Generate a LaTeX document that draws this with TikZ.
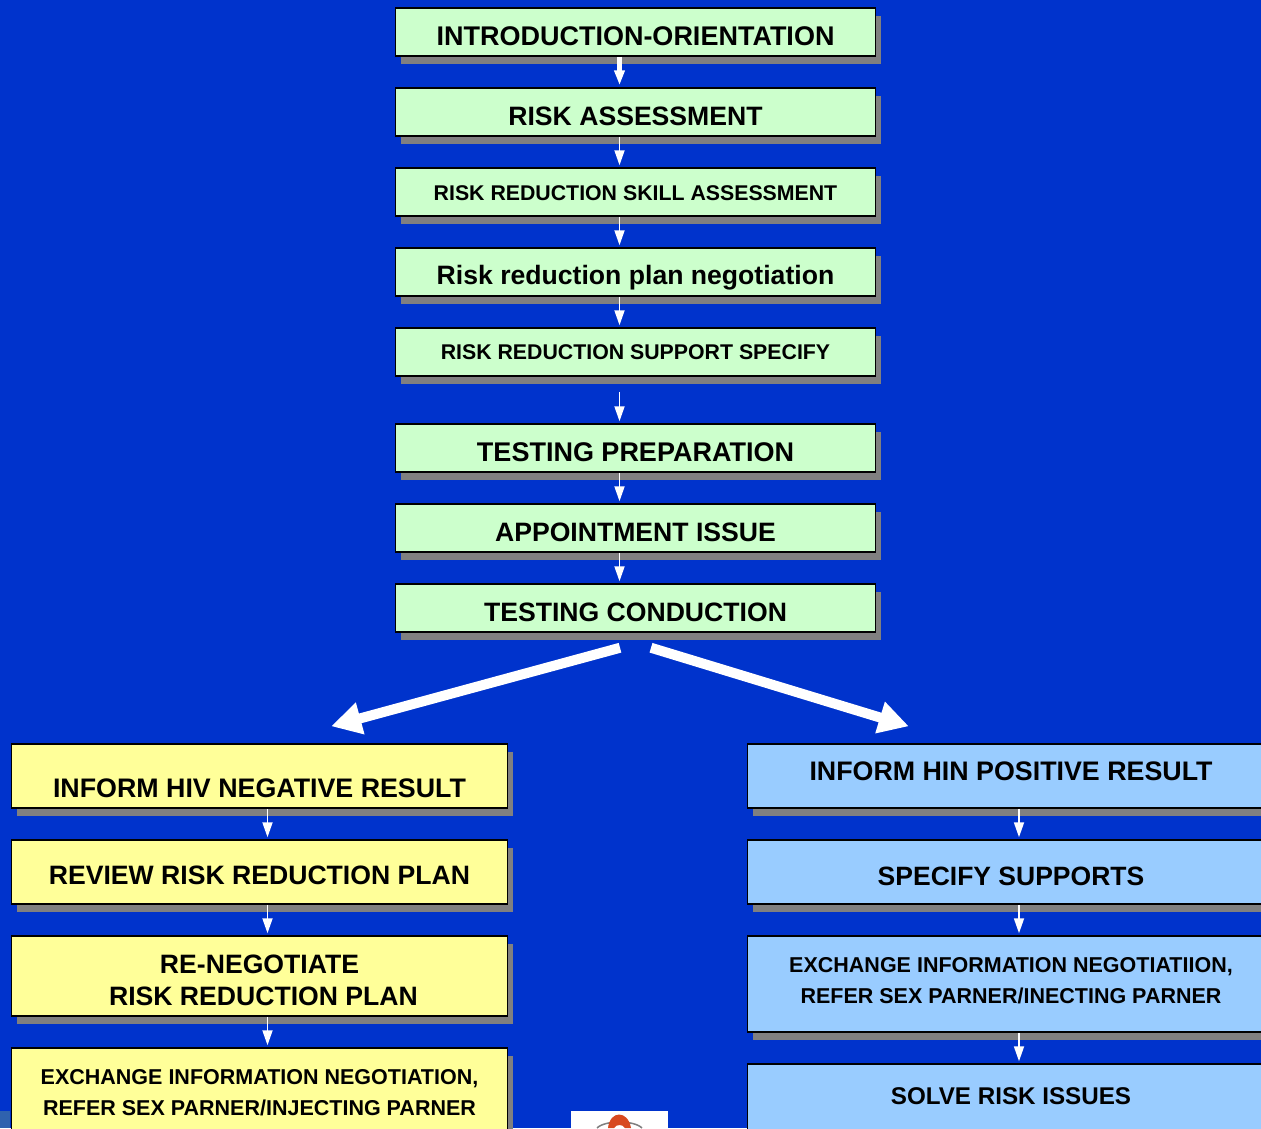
\documentclass[tikz,border=0pt]{standalone}
\usepackage{fontspec}
\setmainfont{Liberation Sans}
\usetikzlibrary{shadows,arrows.meta}
\definecolor{bgblue}{HTML}{0033CC}
\definecolor{boxgreen}{HTML}{CCFFCC}
\definecolor{boxyellow}{HTML}{FFFF99}
\definecolor{boxblue}{HTML}{99CCFF}
\definecolor{shade}{HTML}{808080}
\definecolor{patch}{HTML}{2F62AE}
\definecolor{emblem}{HTML}{D8491F}
\newcommand{\T}[3]{\raisebox{#1pt}[0pt][0pt]{\fontsize{#2}{#2}\selectfont\bfseries #3}}
\newcommand{\TT}[5]{\raisebox{#1pt}[0pt][0pt]{\fontsize{#2}{#2}\selectfont\bfseries\begin{tabular}[b]{@{}c@{}}#3\\[#5pt]#4\end{tabular}}}
\tikzset{
  x=1pt,y=-1pt,
  box/.style={draw=black,line width=1.5pt,inner sep=0pt,text=black,
    general shadow={shadow xshift=5pt,shadow yshift=-8pt,fill=shade}},
  gbox/.style={box,fill=boxgreen,minimum width=480pt,minimum height=48pt},
  ybox/.style={box,fill=boxyellow,minimum width=496pt},
  bbox/.style={box,fill=boxblue,minimum width=527pt},
  flow/.style={draw=white,line width=1.8pt,-{Triangle[width=10pt,length=15pt,fill=white]}},
  big/.style={draw=white,line width=10pt,-{Triangle[width=31pt,length=30pt,fill=white]}},
}
\begin{document}
\begin{tikzpicture}
\useasboundingbox (0,0) rectangle (1261,1128);
\clip (0,0) rectangle (1261,1128);
\fill[bgblue] (0,0) rectangle (1261,1128);
\fill[patch] (0,1111) rectangle (10,1128);
% centre column
\node[gbox] (a1) at (635.5,32) {\T{-13}{27}{INTRODUCTION-ORIENTATION}};
\node[gbox] (a2) at (635.5,112) {\T{-13}{26.6}{RISK ASSESSMENT}};
\node[gbox] (a3) at (635.5,192) {\T{-8}{21.3}{RISK REDUCTION SKILL ASSESSMENT}};
\node[gbox] (a4) at (635.5,272) {\T{-12}{26.6}{Risk reduction plan negotiation}};
\node[gbox] (a5) at (635.5,352) {\T{-7}{21.3}{RISK REDUCTION SUPPORT SPECIFY}};
\node[gbox] (a6) at (635.5,448) {\T{-13}{27}{TESTING PREPARATION}};
\node[gbox] (a7) at (635.5,528) {\T{-13}{26.6}{APPOINTMENT ISSUE}};
\node[gbox] (a8) at (635.5,608) {\T{-13}{26.6}{TESTING CONDUCTION}};
% left column
\node[ybox,minimum height=64pt] (l1) at (259.5,776) {\T{-21}{26.8}{INFORM HIV NEGATIVE RESULT}};
\node[ybox,minimum height=64pt] (l2) at (259.5,872) {\T{-12}{26.6}{REVIEW RISK REDUCTION PLAN}};
\node[ybox,minimum height=80pt] (l3) at (259.5,976) {\TT{-29.5}{26.6}{RE-NEGOTIATE}{\hspace{8pt}RISK REDUCTION PLAN}{5.4}};
\node[ybox,minimum height=96pt] (l4) at (259.5,1096) {\TT{-19.7}{21.5}{EXCHANGE INFORMATION NEGOTIATION,}{REFER SEX PARNER/INJECTING PARNER}{9.5}};
% right column
\node[bbox,minimum height=64pt] (r1) at (1011,776) {\T{-4}{26.8}{INFORM HIN POSITIVE RESULT}};
\node[bbox,minimum height=64pt] (r2) at (1011,872) {\T{-13}{26.5}{SPECIFY SUPPORTS}};
\node[bbox,minimum height=96pt] (r3) at (1011,984) {\TT{-19.7}{21.5}{EXCHANGE INFORMATION NEGOTIATIION,}{REFER SEX PARNER/INECTING PARNER}{9.5}};
\node[bbox,minimum height=96pt] (r4) at (1011,1112) {\T{7.4}{24.2}{SOLVE RISK ISSUES}};
% connectors
\draw[flow,line width=4.5pt] ([xshift=-16pt]a1.south) -- ([xshift=-16pt,yshift=2pt]a2.north);
\draw[flow] ([xshift=-16pt]a2.south) -- ([xshift=-16pt,yshift=2pt]a3.north);
\draw[flow] ([xshift=-16pt]a3.south) -- ([xshift=-16pt,yshift=2pt]a4.north);
\draw[flow] ([xshift=-16pt]a4.south) -- ([xshift=-16pt,yshift=2pt]a5.north);
\draw[flow] ([xshift=-16pt,yshift=-15pt]a5.south) -- ([xshift=-16pt,yshift=2pt]a6.north);
\draw[flow] ([xshift=-16pt]a6.south) -- ([xshift=-16pt,yshift=2pt]a7.north);
\draw[flow] ([xshift=-16pt]a7.south) -- ([xshift=-16pt,yshift=2pt]a8.north);
\draw[flow] ([xshift=8pt]l1.south) -- ([xshift=8pt,yshift=2pt]l2.north);
\draw[flow] ([xshift=8pt]l2.south) -- ([xshift=8pt,yshift=2pt]l3.north);
\draw[flow] ([xshift=8pt]l3.south) -- ([xshift=8pt,yshift=2pt]l4.north);
\draw[flow] ([xshift=8pt]r1.south) -- ([xshift=8pt,yshift=2pt]r2.north);
\draw[flow] ([xshift=8pt]r2.south) -- ([xshift=8pt,yshift=2pt]r3.north);
\draw[flow] ([xshift=8pt]r3.south) -- ([xshift=8pt,yshift=2pt]r4.north);
\draw[big] ([xshift=-15.5pt,yshift=-15pt]a8.south) -- ([xshift=-177pt,yshift=17pt]l1.north east);
\draw[big] ([xshift=15.5pt,yshift=-15pt]a8.south) -- ([xshift=162pt,yshift=17pt]r1.north west);
% emblem
\fill[white] (571,1111) rectangle (668,1128);
\draw[gray,line width=1.5pt] (597,1128) .. controls (605,1120) and (634,1120) .. (642,1128);
\fill[emblem] (608,1128) .. controls (610,1110) and (628,1110) .. (631,1128) -- (625,1128) .. controls (623,1124) and (616,1124) .. (614,1128) -- cycle;
\end{tikzpicture}
\end{document}
